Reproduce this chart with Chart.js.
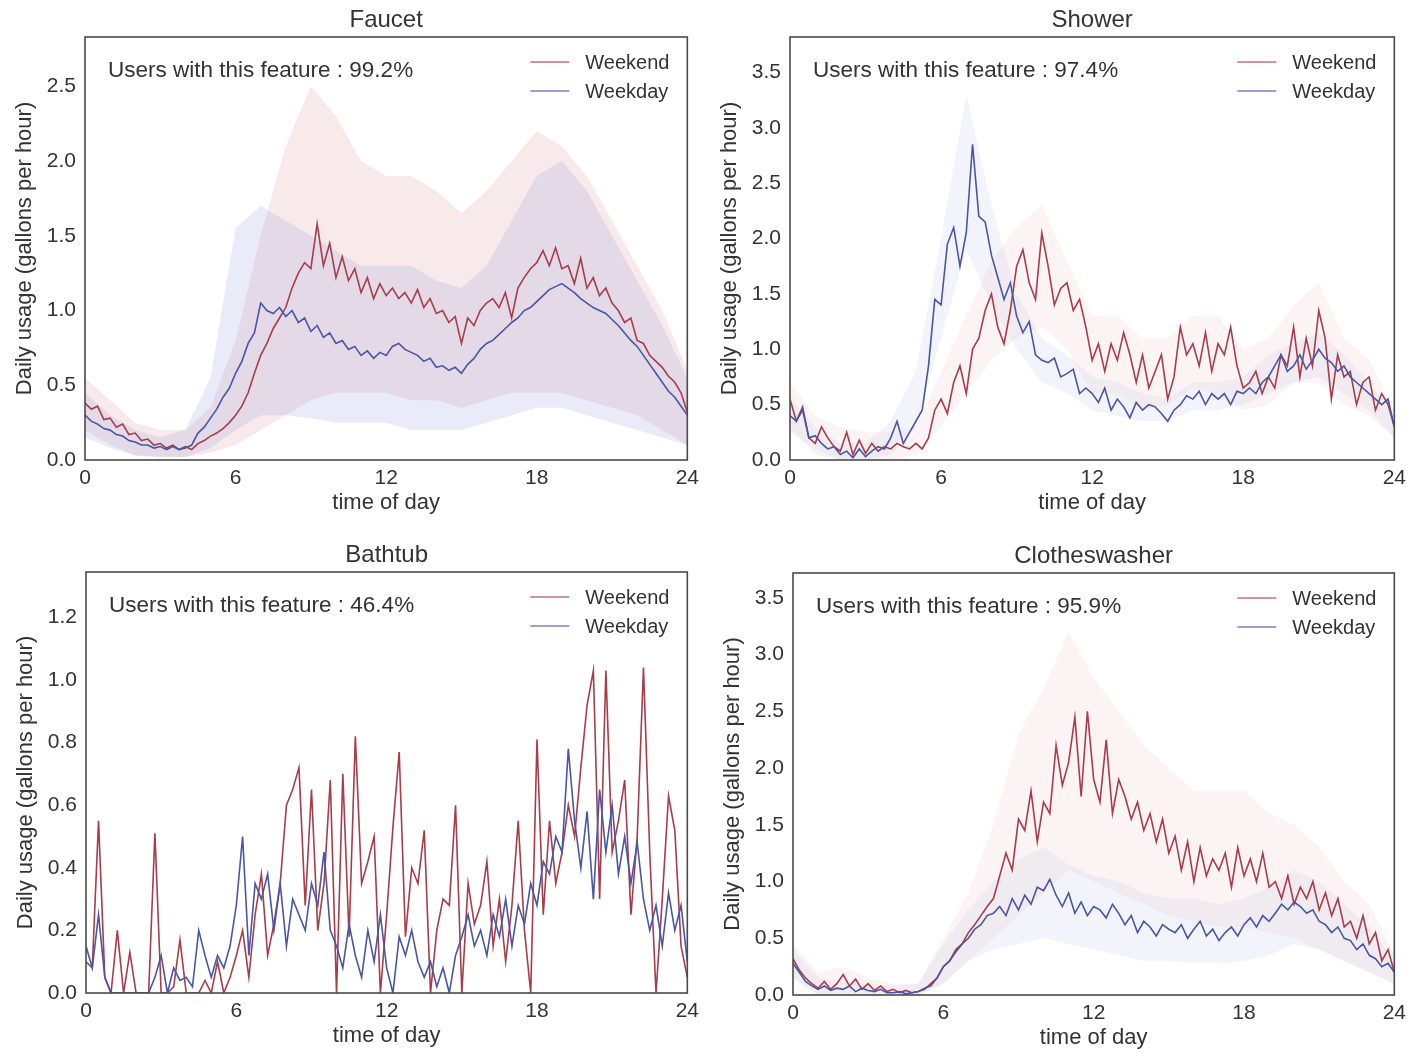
<!DOCTYPE html>
<html>
<head>
<meta charset="utf-8">
<script src="https://cdn.jsdelivr.net/npm/chart.js@4.4.1/dist/chart.umd.min.js"></script>
<style>
  body { margin: 0; background: #fff; }
  #page { position: relative; width: 1412px; height: 1053px; }
  .panel { position: absolute; }
</style>
</head>
<body>
<div id="page">
  <div class="panel" style="left:0px;top:0px"><canvas id="faucet" width="705" height="525"></canvas></div>
  <div class="panel" style="left:705px;top:0px"><canvas id="shower" width="707" height="525"></canvas></div>
  <div class="panel" style="left:0px;top:530px"><canvas id="bathtub" width="705" height="523"></canvas></div>
  <div class="panel" style="left:705px;top:530px"><canvas id="washer" width="707" height="523"></canvas></div>
</div>
<script>
// time grid: 15 minute steps for the mean lines, hourly for the spread bands
const xTicks = [0, 6, 12, 18, 24];
const lineStep = 0.25;
const bandStep = 1;

// ---- Faucet ----
const faucetYTicks = [0, 0.5, 1.0, 1.5, 2.0, 2.5];
const faucetWeekend = [
  0.38, 0.34, 0.36, 0.27,  0.28, 0.22, 0.24, 0.17,  0.18, 0.13, 0.14, 0.10,
  0.11, 0.08, 0.10, 0.07,  0.09, 0.07, 0.11, 0.13,  0.16, 0.18, 0.21, 0.25,
  0.30, 0.36, 0.45, 0.58,  0.70, 0.78, 0.88, 0.95,  1.02, 1.15, 1.25, 1.32,
  1.28, 1.58, 1.30, 1.45,  1.22, 1.36, 1.20, 1.28,  1.12, 1.22, 1.08, 1.18,
  1.10, 1.15, 1.08, 1.12,  1.05, 1.14, 1.02, 1.08,  0.98, 1.00, 0.92, 0.96,
  0.78, 0.95, 0.90, 1.00,  1.05, 1.08, 1.02, 1.12,  0.95, 1.15, 1.22, 1.28,
  1.32, 1.40, 1.30, 1.42,  1.28, 1.30, 1.18, 1.35,  1.15, 1.22, 1.10, 1.15,
  1.05, 1.00, 0.92, 0.95,  0.80, 0.78, 0.70, 0.66,  0.62, 0.56, 0.52, 0.45,
  0.32
];
const faucetWeekday = [
  0.30, 0.26, 0.24, 0.21,  0.20, 0.17, 0.16, 0.13,  0.12, 0.10, 0.10, 0.08,
  0.09, 0.07, 0.09, 0.07,  0.08, 0.10, 0.18, 0.22,  0.28, 0.34, 0.42, 0.48,
  0.58, 0.66, 0.78, 0.85,  1.05, 1.00, 0.98, 1.02,  0.96, 1.00, 0.92, 0.95,
  0.86, 0.90, 0.82, 0.85,  0.78, 0.80, 0.74, 0.76,  0.70, 0.73, 0.68, 0.72,
  0.70, 0.76, 0.78, 0.74,  0.72, 0.70, 0.66, 0.68,  0.62, 0.63, 0.60, 0.62,
  0.58, 0.64, 0.68, 0.74,  0.78, 0.80, 0.84, 0.88,  0.92, 0.95, 1.00, 1.02,
  1.06, 1.10, 1.14, 1.16,  1.18, 1.15, 1.12, 1.08,  1.05, 1.02, 1.00, 0.98,
  0.94, 0.90, 0.85, 0.80,  0.76, 0.70, 0.64, 0.58,  0.52, 0.46, 0.42, 0.36,
  0.30
];
const faucetWeekendHi = [0.55, 0.40, 0.25, 0.20, 0.20, 0.35, 0.80, 1.50, 2.10, 2.50, 2.30, 2.00, 1.90,
  1.90, 1.80, 1.65, 1.80, 2.00, 2.20, 2.10, 1.90, 1.60, 1.30, 1.00, 0.60];
const faucetWeekendLo = [0.20, 0.10, 0.03, 0.02, 0.02, 0.05, 0.10, 0.20, 0.30, 0.40, 0.45, 0.45, 0.45,
  0.40, 0.40, 0.35, 0.40, 0.45, 0.45, 0.45, 0.40, 0.35, 0.30, 0.20, 0.10];
const faucetWeekdayHi = [0.45, 0.30, 0.20, 0.15, 0.20, 0.55, 1.55, 1.70, 1.60, 1.50, 1.40, 1.30, 1.30,
  1.30, 1.20, 1.15, 1.30, 1.60, 1.90, 2.00, 1.80, 1.50, 1.20, 0.90, 0.55];
const faucetWeekdayLo = [0.15, 0.08, 0.03, 0.02, 0.02, 0.08, 0.20, 0.30, 0.30, 0.28, 0.25, 0.25, 0.25,
  0.20, 0.20, 0.20, 0.25, 0.30, 0.35, 0.35, 0.30, 0.25, 0.20, 0.15, 0.10];

// ---- Shower ----
const showerYTicks = [0, 0.5, 1.0, 1.5, 2.0, 2.5, 3.0, 3.5];
const showerWeekend = [
  0.55, 0.35, 0.45, 0.20,  0.15, 0.30, 0.20, 0.12,  0.08, 0.25, 0.05, 0.18,
  0.06, 0.15, 0.08, 0.12,  0.10, 0.15, 0.12, 0.10,  0.15, 0.10, 0.20, 0.45,
  0.55, 0.42, 0.70, 0.85,  0.60, 1.00, 1.10, 1.35,  1.50, 1.20, 1.05, 1.35,
  1.75, 1.90, 1.60, 1.45,  2.05, 1.75, 1.40, 1.55,  1.60, 1.35, 1.45, 1.20,
  0.90, 1.05, 0.80, 1.05,  0.90, 1.15, 0.95, 0.70,  0.95, 0.65, 0.80, 0.95,
  0.55, 0.75, 1.20, 0.95,  1.05, 0.85, 1.15, 0.80,  1.05, 0.95, 1.20, 0.85,
  0.65, 0.70, 0.80, 0.60,  0.75, 0.65, 0.95, 0.85,  1.20, 0.75, 1.10, 0.85,
  1.35, 1.10, 0.55, 0.95,  0.75, 0.80, 0.50, 0.70,  0.75, 0.45, 0.60, 0.50,
  0.30
];
const showerWeekday = [
  0.40, 0.35, 0.48, 0.20,  0.22, 0.15, 0.10, 0.12,  0.05, 0.08, 0.02, 0.10,
  0.03, 0.08, 0.12, 0.10,  0.20, 0.35, 0.15, 0.25,  0.35, 0.45, 0.85, 1.45,
  1.40, 1.95, 2.10, 1.75,  2.05, 2.85, 2.20, 2.15,  1.85, 1.65, 1.45, 1.60,
  1.30, 1.15, 1.25, 0.95,  0.90, 0.88, 0.92, 0.75,  0.78, 0.82, 0.60, 0.65,
  0.60, 0.52, 0.65, 0.45,  0.55, 0.48, 0.38, 0.52,  0.45, 0.50, 0.48, 0.42,
  0.35, 0.45, 0.50, 0.58,  0.55, 0.62, 0.50, 0.60,  0.55, 0.60, 0.50, 0.62,
  0.60, 0.65, 0.60, 0.70,  0.75, 0.85, 0.95, 0.80,  0.85, 0.95, 0.82, 0.90,
  1.00, 0.92, 0.88, 0.80,  0.85, 0.75, 0.70, 0.65,  0.60, 0.55, 0.50, 0.55,
  0.30
];
const showerWeekendHi = [0.70, 0.40, 0.30, 0.25, 0.25, 0.30, 0.80, 1.30, 1.80, 2.10, 2.30, 1.80, 1.30,
  1.30, 1.10, 1.10, 1.30, 1.30, 1.00, 1.10, 1.40, 1.60, 1.10, 0.90, 0.45];
const showerWeekendLo = [0.30, 0.05, 0.00, 0.00, 0.00, 0.05, 0.30, 0.60, 0.90, 1.10, 1.20, 1.00, 0.60,
  0.60, 0.45, 0.50, 0.65, 0.60, 0.45, 0.50, 0.70, 0.70, 0.50, 0.40, 0.20];
const showerWeekdayHi = [0.55, 0.30, 0.15, 0.15, 0.35, 0.80, 2.00, 3.30, 2.30, 1.50, 1.10, 0.95, 0.75,
  0.70, 0.60, 0.55, 0.70, 0.70, 0.75, 0.95, 1.05, 1.15, 0.95, 0.70, 0.40];
const showerWeekdayLo = [0.25, 0.10, 0.00, 0.00, 0.05, 0.30, 1.10, 1.90, 1.40, 1.00, 0.70, 0.60, 0.45,
  0.40, 0.35, 0.35, 0.45, 0.45, 0.50, 0.60, 0.70, 0.75, 0.60, 0.45, 0.20];

// ---- Bathtub ----
const bathYTicks = [0, 0.2, 0.4, 0.6, 0.8, 1.0, 1.2];
const bathWeekend = [
  0.10, 0.08, 0.55, 0.05,  0.00, 0.20, 0.00, 0.13,  0.00, 0.00, 0.00, 0.51,
  0.00, 0.00, 0.02, 0.17,  0.00, 0.00, 0.00, 0.04,  0.00, 0.10, 0.00, 0.05,
  0.12, 0.20, 0.05, 0.25,  0.38, 0.12, 0.22, 0.35,  0.60, 0.65, 0.72, 0.28,
  0.65, 0.20, 0.35, 0.68,  0.00, 0.70, 0.18, 0.82,  0.35, 0.42, 0.50, 0.00,
  0.25, 0.53, 0.77, 0.18,  0.40, 0.35, 0.52, 0.00,  0.20, 0.30, 0.28, 0.60,
  0.00, 0.35, 0.22, 0.28,  0.42, 0.15, 0.30, 0.10,  0.28, 0.55, 0.20, 0.00,
  0.81, 0.25, 0.55, 0.35,  0.45, 0.60, 0.50, 0.72,  0.92, 1.03, 0.30, 1.03,
  0.45, 0.55, 0.68, 0.25,  0.50, 1.04, 0.45, 0.00,  0.30, 0.63, 0.52, 0.15,
  0.05
];
const bathWeekday = [
  0.15, 0.08, 0.25, 0.05,  0.00, 0.00, 0.00, 0.00,  0.00, 0.00, 0.00, 0.05,
  0.12, 0.00, 0.08, 0.04,  0.05, 0.02, 0.20, 0.12,  0.05, 0.12, 0.08, 0.15,
  0.28, 0.50, 0.12, 0.35,  0.30, 0.38, 0.20, 0.35,  0.15, 0.30, 0.25, 0.20,
  0.35, 0.28, 0.45, 0.20,  0.15, 0.08, 0.22, 0.12,  0.05, 0.20, 0.10, 0.25,
  0.08, 0.00, 0.18, 0.12,  0.20, 0.10, 0.05, 0.10,  0.02, 0.08, 0.00, 0.12,
  0.18, 0.25, 0.15, 0.20,  0.12, 0.25, 0.18, 0.30,  0.15, 0.28, 0.22, 0.35,
  0.28, 0.42, 0.38, 0.50,  0.45, 0.78, 0.55, 0.40,  0.58, 0.30, 0.65, 0.45,
  0.60, 0.38, 0.50, 0.35,  0.48, 0.30, 0.20, 0.28,  0.15, 0.32, 0.20, 0.28,
  0.10
];

// ---- Clotheswasher ----
const washerYTicks = [0, 0.5, 1.0, 1.5, 2.0, 2.5, 3.0, 3.5];
const washerWeekend = [
  0.32, 0.22, 0.15, 0.10,  0.06, 0.12, 0.05, 0.10,  0.18, 0.08, 0.14, 0.05,
  0.10, 0.04, 0.08, 0.03,  0.05, 0.02, 0.04, 0.02,  0.03, 0.05, 0.10, 0.15,
  0.25, 0.30, 0.40, 0.45,  0.55, 0.62, 0.70, 0.78,  0.85, 1.05, 1.25, 1.10,
  1.55, 1.45, 1.80, 1.35,  1.70, 1.60, 2.20, 1.85,  2.05, 2.45, 1.75, 2.50,
  1.90, 1.70, 2.25, 1.60,  1.90, 1.75, 1.55, 1.70,  1.45, 1.60, 1.35, 1.55,
  1.25, 1.40, 1.10, 1.35,  1.00, 1.30, 1.05, 1.20,  1.10, 1.25, 0.95, 1.30,
  1.05, 1.20, 1.00, 1.25,  0.95, 1.00, 0.85, 1.05,  0.80, 0.95, 0.85, 1.00,
  0.75, 0.90, 0.70, 0.85,  0.60, 0.65, 0.50, 0.70,  0.45, 0.55, 0.30, 0.40,
  0.20
];
const washerWeekday = [
  0.28, 0.20, 0.12, 0.08,  0.05, 0.08, 0.04, 0.06,  0.05, 0.08, 0.03, 0.06,
  0.04, 0.03, 0.05, 0.02,  0.02, 0.03, 0.01, 0.02,  0.03, 0.06, 0.08, 0.15,
  0.25, 0.30, 0.38, 0.45,  0.50, 0.58, 0.62, 0.70,  0.72, 0.78, 0.70, 0.85,
  0.75, 0.88, 0.80, 0.95,  0.92, 1.02, 0.88, 0.78,  0.90, 0.72, 0.82, 0.70,
  0.78, 0.75, 0.68, 0.80,  0.72, 0.62, 0.70, 0.55,  0.65, 0.60, 0.52, 0.62,
  0.58, 0.55, 0.62, 0.50,  0.58, 0.65, 0.52, 0.58,  0.48, 0.55, 0.60, 0.52,
  0.62, 0.68, 0.60, 0.70,  0.65, 0.72, 0.80, 0.75,  0.82, 0.78, 0.72, 0.75,
  0.65, 0.62, 0.55, 0.60,  0.50, 0.48, 0.40, 0.45,  0.35, 0.32, 0.25, 0.28,
  0.20
];
const washerWeekendHi = [0.45, 0.20, 0.25, 0.15, 0.10, 0.10, 0.50, 0.90, 1.50, 2.30, 2.70, 3.20, 2.80,
  2.50, 2.20, 2.00, 1.80, 1.80, 1.80, 1.60, 1.50, 1.30, 1.00, 0.80, 0.35];
const washerWeekendLo = [0.15, 0.00, 0.00, 0.00, 0.00, 0.00, 0.10, 0.30, 0.50, 0.70, 0.90, 1.10, 1.00,
  0.90, 0.80, 0.70, 0.65, 0.60, 0.60, 0.55, 0.50, 0.40, 0.30, 0.20, 0.10];
const washerWeekdayHi = [0.40, 0.15, 0.12, 0.10, 0.08, 0.10, 0.45, 0.75, 1.00, 1.20, 1.30, 1.15, 1.05,
  1.00, 0.90, 0.85, 0.85, 0.80, 0.85, 0.95, 1.10, 1.00, 0.80, 0.60, 0.30];
const washerWeekdayLo = [0.15, 0.00, 0.00, 0.00, 0.00, 0.00, 0.10, 0.30, 0.40, 0.45, 0.50, 0.45, 0.40,
  0.35, 0.30, 0.30, 0.28, 0.28, 0.30, 0.35, 0.45, 0.40, 0.30, 0.20, 0.10];

const WEEKEND = "#a83c4a";
const WEEKDAY = "#4856a5";
const FONT = '"Liberation Sans", Arial, sans-serif';
const TEXT = "#333333";

function toPoints(values, step) {
  return values.map((v, i) => ({ x: i * step, y: v }));
}

function lineSet(label, values, color) {
  return {
    label: label,
    data: toPoints(values, lineStep),
    borderColor: color,
    borderWidth: 1.6,
    pointRadius: 0,
    tension: 0,
    fill: false
  };
}

function bandSets(hi, lo, color) {
  return [
    { label: "hi", data: toPoints(hi, bandStep), borderWidth: 0, pointRadius: 0, backgroundColor: color, fill: "+1", tension: 0 },
    { label: "lo", data: toPoints(lo, bandStep), borderWidth: 0, pointRadius: 0, backgroundColor: color, fill: false, tension: 0 }
  ];
}

const decor = {
  id: "decor",
  afterDraw(chart, args, opts) {
    const ctx = chart.ctx;
    const a = chart.chartArea;
    const midX = (a.left + a.right) / 2;
    const midY = (a.top + a.bottom) / 2;
    ctx.save();

    ctx.strokeStyle = "#4a4a4a";
    ctx.lineWidth = 1.6;
    ctx.strokeRect(a.left, a.top, a.right - a.left, a.bottom - a.top);

    ctx.fillStyle = TEXT;
    ctx.textBaseline = "middle";
    ctx.textAlign = "center";
    ctx.font = "24px " + FONT;
    ctx.fillText(opts.title, midX, a.top - 17);

    ctx.font = "22px " + FONT;
    ctx.fillText("time of day", midX, a.bottom + 43);

    ctx.save();
    ctx.translate(a.left - 60, midY);
    ctx.rotate(-Math.PI / 2);
    ctx.fillText("Daily usage (gallons per hour)", 0, 0);
    ctx.restore();

    ctx.textAlign = "left";
    ctx.font = "22.5px " + FONT;
    ctx.fillText("Users with this feature : " + opts.share, a.left + 23, a.top + 34);

    // legend
    ctx.font = "20px " + FONT;
    const rows = [["Weekend", "rgba(168, 60, 74, 0.55)"], ["Weekday", "rgba(72, 86, 165, 0.55)"]];
    rows.forEach((r, i) => {
      const y = a.top + 25 + i * 29;
      ctx.strokeStyle = r[1];
      ctx.lineWidth = 2;
      ctx.beginPath();
      ctx.moveTo(a.right - 157, y);
      ctx.lineTo(a.right - 118, y);
      ctx.stroke();
      ctx.fillText(r[0], a.right - 102, y + 1);
    });
    ctx.restore();
  }
};

function makePanel(id, p) {
  const datasets = [
    lineSet("Weekday", p.weekday, WEEKDAY),
    lineSet("Weekend", p.weekend, WEEKEND)
  ];
  if (p.weekdayHi) datasets.push(...bandSets(p.weekdayHi, p.weekdayLo, "rgba(120, 135, 210, " + p.alpha + ")"));
  if (p.weekendHi) datasets.push(...bandSets(p.weekendHi, p.weekendLo, "rgba(214, 120, 130, " + p.alpha + ")"));

  new Chart(document.getElementById(id), {
    type: "line",
    data: { datasets: datasets },
    options: {
      responsive: false,
      animation: false,
      layout: { padding: { top: p.pad[0], right: p.pad[1], bottom: 0, left: 0 } },
      plugins: {
        legend: { display: false },
        tooltip: { enabled: false },
        decor: { title: p.title, share: p.share }
      },
      scales: {
        x: {
          type: "linear",
          min: 0,
          max: 24,
          afterBuildTicks: s => { s.ticks = xTicks.map(v => ({ value: v })); },
          afterFit: s => { s.height = p.pad[2]; },
          grid: { display: false, drawTicks: false },
          border: { display: false },
          ticks: { color: TEXT, font: { size: 21, family: FONT }, padding: 6, maxRotation: 0, autoSkip: false }
        },
        y: {
          min: 0,
          max: p.yMax,
          afterBuildTicks: s => { s.ticks = p.yTicks.map(v => ({ value: v })); },
          afterFit: s => { s.width = p.pad[3]; },
          grid: { display: false, drawTicks: false },
          border: { display: false },
          ticks: { color: TEXT, font: { size: 21, family: FONT }, padding: 9, callback: v => v.toFixed(1) }
        }
      }
    },
    plugins: [decor]
  });
}

// pad = [top, right, x-axis height, y-axis width]
makePanel("faucet", {
  title: "Faucet", share: "99.2%", yMax: 2.83, yTicks: faucetYTicks, pad: [37, 15, 65, 85], alpha: 0.16,
  weekend: faucetWeekend, weekday: faucetWeekday,
  weekendHi: faucetWeekendHi, weekendLo: faucetWeekendLo,
  weekdayHi: faucetWeekdayHi, weekdayLo: faucetWeekdayLo
});
makePanel("shower", {
  title: "Shower", share: "97.4%", yMax: 3.82, yTicks: showerYTicks, pad: [37, 12, 65, 85], alpha: 0.09,
  weekend: showerWeekend, weekday: showerWeekday,
  weekendHi: showerWeekendHi, weekendLo: showerWeekendLo,
  weekdayHi: showerWeekdayHi, weekdayLo: showerWeekdayLo
});
makePanel("bathtub", {
  title: "Bathtub", share: "46.4%", yMax: 1.345, yTicks: bathYTicks, pad: [42, 13, 60, 86],
  weekend: bathWeekend, weekday: bathWeekday
});
makePanel("washer", {
  title: "Clotheswasher", share: "95.9%", yMax: 3.72, yTicks: washerYTicks, pad: [43, 9, 58, 88], alpha: 0.09,
  weekend: washerWeekend, weekday: washerWeekday,
  weekendHi: washerWeekendHi, weekendLo: washerWeekendLo,
  weekdayHi: washerWeekdayHi, weekdayLo: washerWeekdayLo
});
</script>
</body>
</html>
